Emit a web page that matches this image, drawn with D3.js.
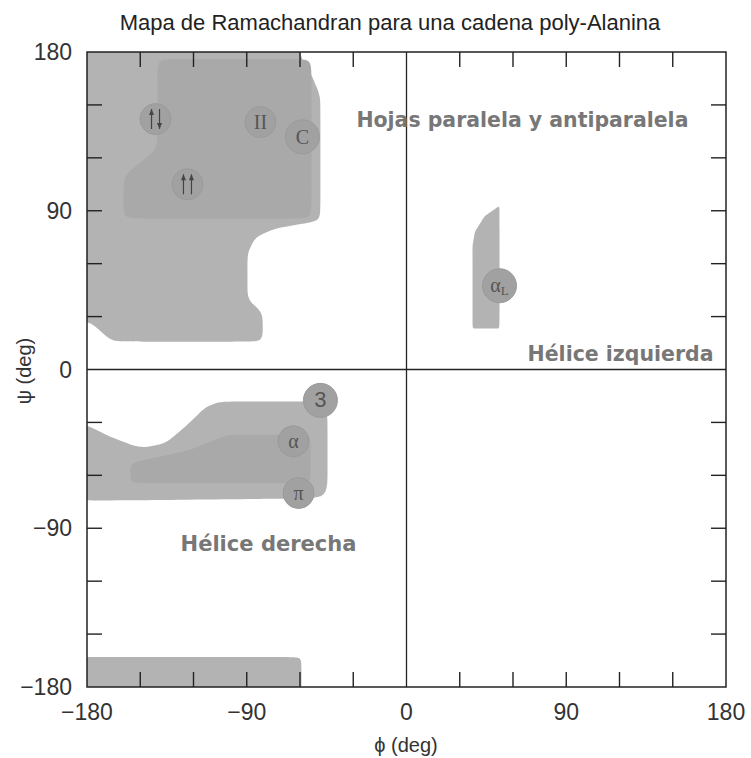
<!DOCTYPE html>
<html>
<head>
<meta charset="utf-8">
<script src="https://cdn.jsdelivr.net/npm/d3@7"></script>
<style>
  body { margin: 0; background: #fff; }
  svg { font-family: "Liberation Sans", Arial, sans-serif; }
</style>
</head>
<body>
<svg id="chart" width="751" height="758"></svg>
<script>
// ---- data (phi, psi in degrees) ----
var title = 'Mapa de Ramachandran para una cadena poly-Alanina';
var phiTicks = [-180, -90, 0, 90, 180];
var psiTicks = [-180, -90, 0, 90, 180];
var minorTicks = [-150, -120, -90, -60, -30, 30, 60, 90, 120, 150];

// allowed regions (outline vertices)
var betaOuter = [[-190, 190], [-60, 190], [-60, 178], [-54, 168], [-48.5, 155], [-48.5, 84.3],
  [-74, 80], [-85, 75], [-89.6, 66], [-89.6, 40], [-81, 32], [-81, 15.8], [-166, 15.8],
  [-178, 27], [-190, 27]];
var betaInner = [[-140.3, 176], [-140.3, 125], [-159.4, 110], [-159.4, 85.5], [-53.5, 85.5], [-53.5, 176]];
var alphaOuter = [[-190, -28], [-180, -31.7], [-165, -39], [-150, -44.5], [-136, -42], [-124, -32],
  [-113, -21], [-104, -18.1], [-44.5, -18.1], [-44.5, -73], [-190, -74.5]];
var alphaInner = [[-155.5, -53], [-123, -46], [-101, -37], [-54, -37], [-54, -64.5], [-155.5, -64.5]];
var alphaL = [[37.2, 23.2], [52.4, 23.2], [52.4, 92.8], [44, 87], [38.5, 78], [37.2, 70]];
var bottomBand = [[-190, -190], [-59.2, -190], [-59.2, -163], [-190, -163]];

// secondary structure markers
var markLabels = ['anti', 'II', 'C', 'par', '3', '\u03b1', '\u03c0', 'aL'];
var markPhi = [-141.4, -82.3, -58.6, -123.4, -48.5, -63.7, -60.8, 52.4];
var markPsi = [142, 140.3, 131.9, 105, -17.5, -40.7, -70, 47.5];

var zoneLabels = ['Hojas paralela y antiparalela', 'H\u00e9lice izquierda', 'H\u00e9lice derecha'];
var zonePhi = [-28.2, 173, -127.3];
var zonePsi = [137.5, 5, -103];
var zoneAnchor = ['start', 'end', 'start'];
var zoneWidth = [332, 186, 176];

// ---- chart ----
var svg = d3.select('#chart');
var x = d3.scaleLinear().domain([-180, 180]).range([87, 726]);
var y = d3.scaleLinear().domain([-180, 180]).range([687, 52]);

svg.append('defs').append('clipPath').attr('id', 'plotclip')
  .append('rect').attr('x', 87).attr('y', 52).attr('width', 639).attr('height', 635);

// rounded outline: each corner becomes (before, corner, after) for a basis curve
function roundedPath(pts, r) {
  var p = pts.map(function (d) { return [x(d[0]), y(d[1])]; });
  var out = [];
  var n = p.length;
  for (var i = 0; i < n; i++) {
    var c = p[i], a = p[(i - 1 + n) % n], b = p[(i + 1) % n];
    var da = Math.hypot(a[0] - c[0], a[1] - c[1]);
    var db = Math.hypot(b[0] - c[0], b[1] - c[1]);
    var ra = Math.min(r, da / 2), rb = Math.min(r, db / 2);
    out.push([c[0] + (a[0] - c[0]) * ra / da, c[1] + (a[1] - c[1]) * ra / da]);
    out.push(c);
    out.push([c[0] + (b[0] - c[0]) * rb / db, c[1] + (b[1] - c[1]) * rb / db]);
  }
  return d3.line().curve(d3.curveBasisClosed)(out);
}

var regions = svg.append('g').attr('clip-path', 'url(#plotclip)');
var shapes = [
  { pts: betaOuter, r: 14, fill: '#b3b3b3' },
  { pts: betaInner, r: 16, fill: '#a9a9a9' },
  { pts: alphaOuter, r: 24, fill: '#b3b3b3' },
  { pts: alphaInner, r: 12, fill: '#a9a9a9' },
  { pts: alphaL, r: 4, fill: '#b3b3b3' },
  { pts: bottomBand, r: 10, fill: '#b3b3b3' }
];
regions.selectAll('path.region').data(shapes).enter().append('path')
  .attr('class', 'region')
  .attr('d', function (d) { return roundedPath(d.pts, d.r); })
  .attr('fill', function (d) { return d.fill; });

// frame and zero lines
svg.append('rect').attr('x', 87).attr('y', 52).attr('width', 639).attr('height', 635)
  .attr('fill', 'none').attr('stroke', '#222').attr('stroke-width', 1.5);
svg.append('line').attr('x1', x(0)).attr('x2', x(0)).attr('y1', y(180)).attr('y2', y(-180))
  .attr('stroke', '#222').attr('stroke-width', 1.3);
svg.append('line').attr('x1', x(-180)).attr('x2', x(180)).attr('y1', y(0)).attr('y2', y(0))
  .attr('stroke', '#222').attr('stroke-width', 1.3);

// inward ticks on all four sides
var tickLen = 15;
var ticks = svg.append('g').attr('stroke', '#222').attr('stroke-width', 1.4);
minorTicks.forEach(function (t) {
  ticks.append('line').attr('x1', x(t)).attr('x2', x(t)).attr('y1', y(-180)).attr('y2', y(-180) - tickLen);
  ticks.append('line').attr('x1', x(t)).attr('x2', x(t)).attr('y1', y(180)).attr('y2', y(180) + tickLen);
  ticks.append('line').attr('y1', y(t)).attr('y2', y(t)).attr('x1', x(-180)).attr('x2', x(-180) + tickLen);
  ticks.append('line').attr('y1', y(t)).attr('y2', y(t)).attr('x1', x(180)).attr('x2', x(180) - tickLen);
});

function fmt(v) { return v < 0 ? '\u2212' + Math.abs(v) : '' + v; }

svg.append('g').selectAll('text').data(phiTicks).enter().append('text')
  .attr('x', function (d) { return x(d); })
  .attr('y', 720)
  .attr('text-anchor', 'middle')
  .attr('font-size', 23).attr('fill', '#333')
  .text(fmt);

svg.append('g').selectAll('text').data(psiTicks).enter().append('text')
  .attr('x', 72)
  .attr('y', function (d) { return y(d) + 8; })
  .attr('text-anchor', 'end')
  .attr('font-size', 23).attr('fill', '#333')
  .text(fmt);

svg.append('text').attr('x', 390).attr('y', 30).attr('text-anchor', 'middle')
  .attr('font-size', 22).attr('fill', '#222').text(title);

svg.append('text').attr('x', 406).attr('y', 752).attr('text-anchor', 'middle')
  .attr('font-size', 20).attr('fill', '#333').text('\u03d5 (deg)');

svg.append('text').attr('transform', 'translate(31,371) rotate(-90)').attr('text-anchor', 'middle')
  .attr('font-size', 20).attr('fill', '#333').text('\u03c8 (deg)');

// zone names
svg.append('g').selectAll('text').data(zoneLabels).enter().append('text')
  .attr('x', function (d, i) { return x(zonePhi[i]); })
  .attr('y', function (d, i) { return y(zonePsi[i]); })
  .attr('text-anchor', function (d, i) { return zoneAnchor[i]; })
  .attr('textLength', function (d, i) { return zoneWidth[i]; })
  .attr('lengthAdjust', 'spacingAndGlyphs')
  .style('font-family', '"DejaVu Sans", "Open Sans", sans-serif')
  .style('font-weight', 'bold')
  .attr('font-size', 21)
  .attr('fill', '#777')
  .text(function (d) { return d; });

// markers
var marks = svg.append('g').selectAll('g').data(markLabels).enter().append('g')
  .attr('transform', function (d, i) { return 'translate(' + x(markPhi[i]) + ',' + y(markPsi[i]) + ')'; });

marks.append('circle')
  .attr('r', function (d) { return (d === '3' || d === 'aL' || d === 'C') ? 17 : 15.5; })
  .attr('fill', '#a1a1a1')
  .attr('stroke', '#9a9a9a').attr('stroke-width', 1);

marks.each(function (d) {
  var g = d3.select(this);
  if (d === 'anti' || d === 'par') {
    var dirs = d === 'anti' ? [-1, 1] : [-1, -1];
    [-4, 4].forEach(function (dx, k) {
      var up = dirs[k] < 0;
      var y0 = up ? 10 : -10, y1 = up ? -10 : 10;
      g.append('line').attr('x1', dx).attr('x2', dx).attr('y1', y0).attr('y2', y1)
        .attr('stroke', '#444').attr('stroke-width', 1.2);
      g.append('path')
        .attr('d', 'M' + (dx - 2.5) + ',' + (y1 - (up ? -6 : 6)) + 'L' + dx + ',' + y1 + 'L' + (dx + 2.5) + ',' + (y1 - (up ? -6 : 6)) + 'Z')
        .attr('fill', '#444');
    });
  } else if (d === 'aL') {
    var t = g.append('text').attr('text-anchor', 'middle').attr('y', 6)
      .style('font-family', '"Liberation Serif", serif').attr('font-size', 20).attr('fill', '#555');
    t.append('tspan').text('\u03b1');
    t.append('tspan').attr('font-size', 13).attr('dy', 3).text('L');
  } else {
    g.append('text').attr('text-anchor', 'middle').attr('y', 7)
      .style('font-family', d === '3' ? '"Liberation Sans", sans-serif' : '"Liberation Serif", serif')
      .attr('font-size', d === '3' ? 22 : 20)
      .attr('fill', '#555')
      .text(d);
  }
});
</script>
</body>
</html>
